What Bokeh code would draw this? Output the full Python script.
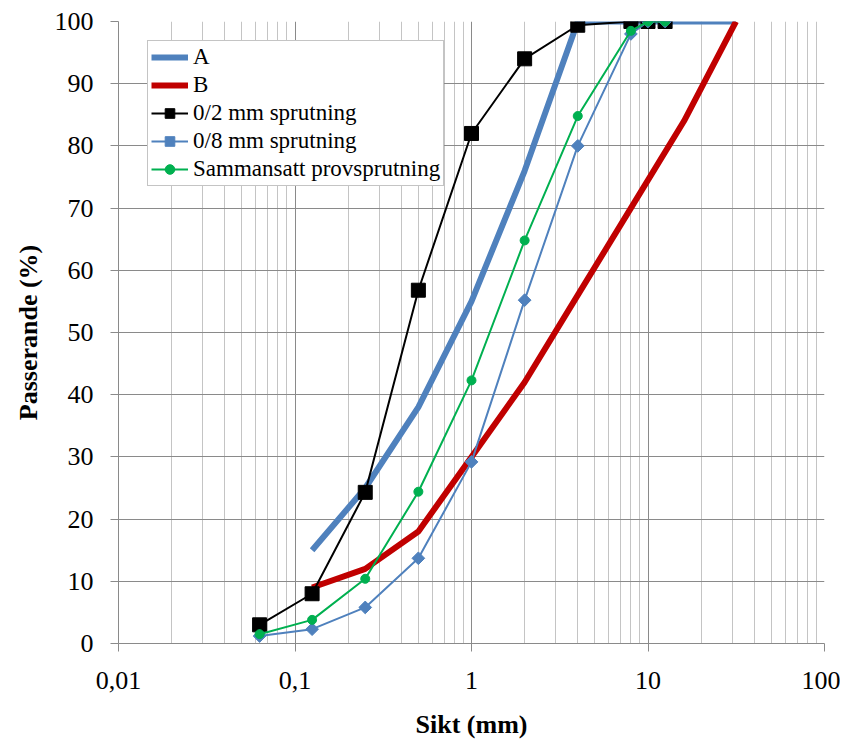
from bokeh.plotting import figure
from bokeh.models import FixedTicker, Legend
from bokeh.embed import file_html
from bokeh.resources import INLINE

# Data
a_x = [0.125, 0.25, 0.5, 1, 2, 4, 31.5]
a_y = [15, 25, 38, 55, 76, 100, 100]
b_x = [0.125, 0.25, 0.5, 1, 2, 4, 8, 16, 31.5]
b_y = [9, 12, 18, 30, 42, 56, 70, 84, 100]
sieve = [0.063, 0.125, 0.25, 0.5, 1, 2, 4, 8, 10, 12.5]
s02_y = [3, 8, 24.3, 56.8, 82, 94, 99.4, 100, 100, 100]
s08_y = [1.2, 2.3, 5.8, 13.7, 29.2, 55.2, 80, 98, 100, 100]
komb_y = [1.5, 3.8, 10.4, 24.4, 42.3, 64.8, 84.8, 98.5, 100, 100]
x_major = [0.01, 0.1, 1, 10, 100]
x_labels = ["0,01", "0,1", "1", "10", "100"]
y_ticks = [0, 10, 20, 30, 40, 50, 60, 70, 80, 90, 100]

FONT = "Liberation Serif"
GRID_DARK = "#8a8a8a"
GRID_LIGHT = "#c4c4c4"

p = figure(width=840, height=741, x_axis_type="log", x_range=(0.01, 100), y_range=(0, 100),
           output_backend="svg", toolbar_location=None,
           min_border_left=118, min_border_right=16, min_border_top=21, min_border_bottom=98)
p.outline_line_color = None

minor = [m * d for d in [0.01, 0.1, 1, 10] for m in range(2, 10)]
xt = FixedTicker(ticks=x_major, minor_ticks=minor)
p.xaxis.ticker = xt
p.xgrid.ticker = xt
p.xaxis.major_label_overrides = {v: l for v, l in zip(x_major, x_labels)}
p.xgrid.grid_line_color = GRID_DARK
p.xgrid.minor_grid_line_color = GRID_LIGHT
yt = FixedTicker(ticks=y_ticks)
p.yaxis.ticker = yt
p.ygrid.ticker = yt
p.ygrid.grid_line_color = GRID_DARK

for ax in (p.xaxis[0], p.yaxis[0]):
    ax.axis_line_color = GRID_DARK
    ax.major_tick_line_color = GRID_DARK
    ax.major_tick_out = 8
    ax.major_tick_in = 0
    ax.minor_tick_line_color = None
    ax.major_label_text_font = FONT
    ax.major_label_text_font_size = "26px"
    ax.major_label_text_color = "black"
    ax.axis_label_text_font = FONT
    ax.axis_label_text_font_size = "26px"
    ax.axis_label_text_font_style = "bold"
    ax.axis_label_text_color = "black"

p.xaxis.axis_label = "Sikt (mm)"
p.yaxis.axis_label = "Passerande (%)"
p.xaxis.major_label_standoff = 20
p.xaxis.axis_label_standoff = 18
p.yaxis.major_label_standoff = 17
p.yaxis.axis_label_standoff = 9

items = []
r1 = p.line(a_x, a_y, line_color="#4f81bd", line_width=6)
items.append(("A", [r1]))
r2 = p.line(b_x, b_y, line_color="#c00000", line_width=6)
items.append(("B", [r2]))
r3 = p.line(sieve, s02_y, line_color="black", line_width=2)
r3m = p.scatter(sieve, s02_y, marker="square", size=14, fill_color="black", line_color="black")
items.append(("0/2 mm sprutning", [r3, r3m]))
r4 = p.line(sieve, s08_y, line_color="#4f81bd", line_width=2)
r4m = p.scatter(sieve, s08_y, marker="square", size=9, angle=0.7854,
                fill_color="#4f81bd", line_color="#4f81bd")
items.append(("0/8 mm sprutning", [r4, r4m]))
r5 = p.line(sieve, komb_y, line_color="#00b050", line_width=2)
r5m = p.scatter(sieve, komb_y, marker="circle", size=9, fill_color="#00b050", line_color="#00b050")
items.append(("Sammansatt provsprutning", [r5, r5m]))

legend = Legend(items=items, location=(29, 457))
legend.label_text_font = FONT
legend.label_text_font_size = "23px"
legend.label_text_color = "black"
legend.label_height = 24
legend.glyph_height = 24
legend.glyph_width = 37
legend.spacing = 2
legend.padding = 3
legend.margin = 0
legend.label_standoff = 5
legend.border_line_color = GRID_DARK
legend.border_line_width = 1
legend.background_fill_alpha = 1
p.add_layout(legend, "center")

open("out.html", "w").write(file_html(p, INLINE))
